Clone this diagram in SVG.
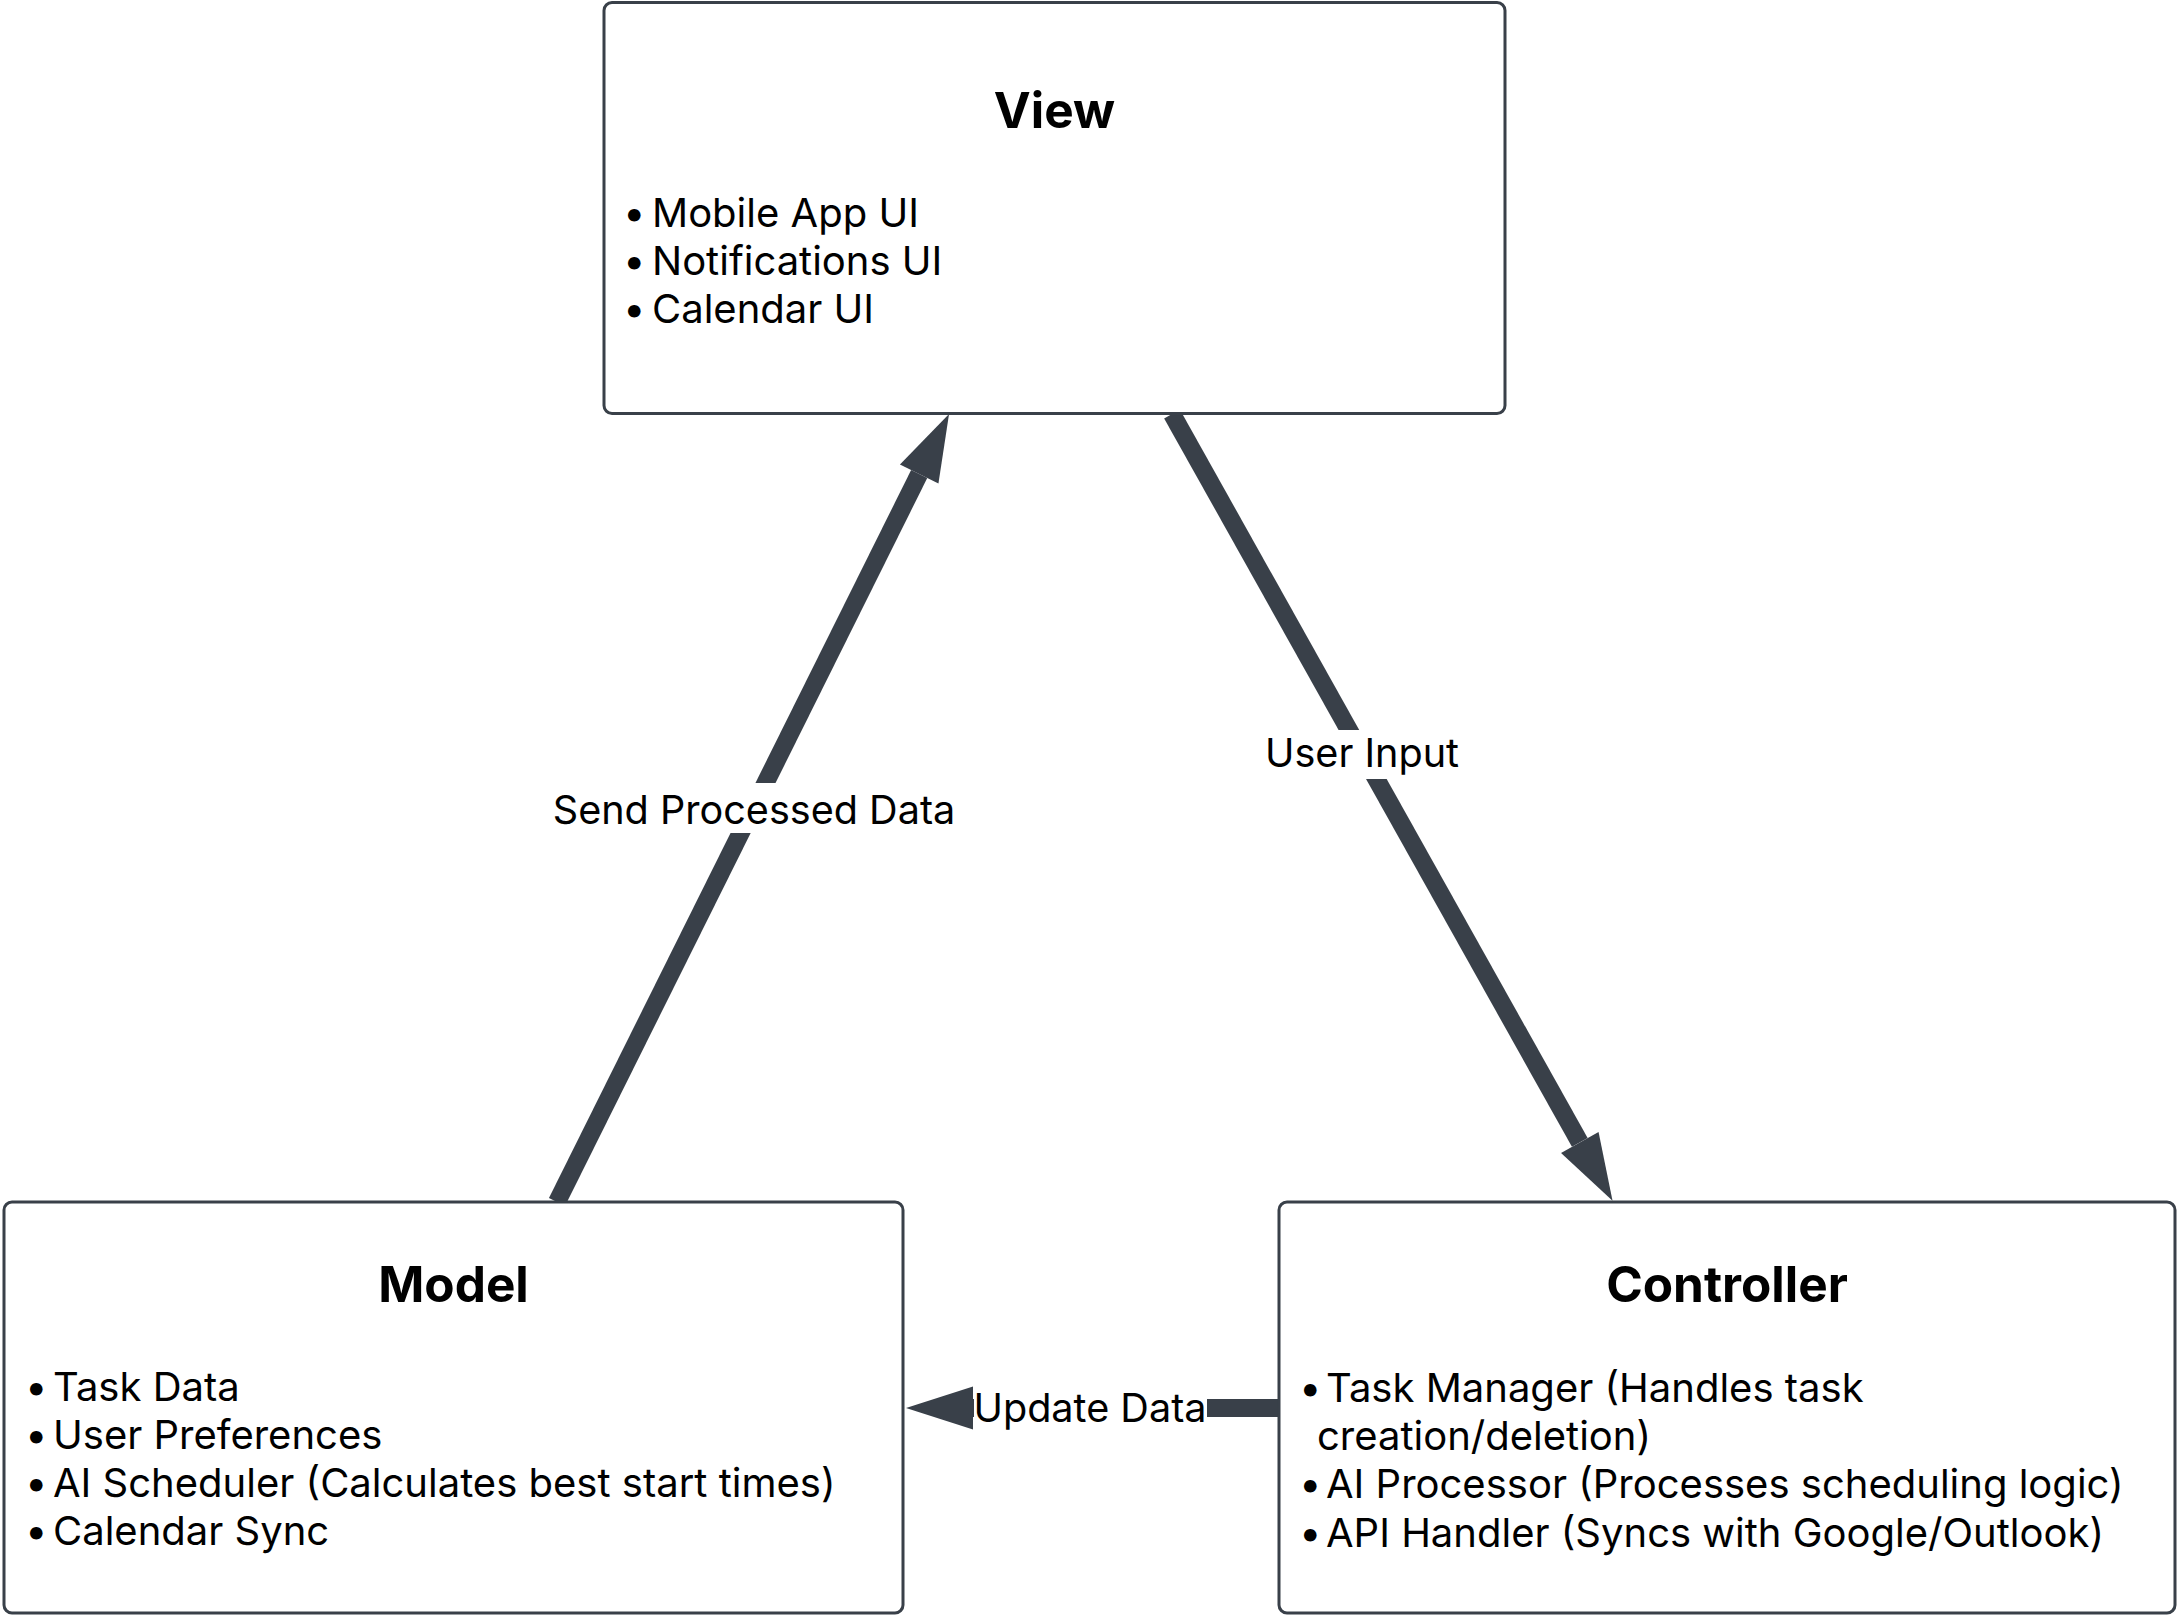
<svg xmlns="http://www.w3.org/2000/svg" width="2179" height="1616" viewBox="0 0 2179 1616">
<style>
.box{fill:#ffffff;stroke:#394049;stroke-width:3}
.title{font-family:Inter,"Liberation Sans",sans-serif;font-weight:700;font-size:49.5px;fill:#000;text-anchor:middle}
.item{font-family:Inter,"Liberation Sans",sans-serif;font-size:40px;fill:#000}
.edge{stroke:#394049;stroke-width:18;fill:none}
.lbl{font-family:Inter,"Liberation Sans",sans-serif;font-size:39.6px;fill:#000;text-anchor:middle}
.lblbg{fill:#ffffff}
</style>
<defs>
<marker id="ah" markerUnits="userSpaceOnUse" markerWidth="68" markerHeight="44" refX="0" refY="21.5" orient="auto" overflow="visible">
<path d="M0,0 L67,21.5 L0,43 Z" fill="#394049"/>
</marker>
</defs>
<rect width="2179" height="1616" fill="#ffffff"/>
<g id="connectors">
<line class="edge" x1="557" y1="1202" x2="919.2" y2="474" marker-end="url(#ah)"/>
<line class="edge" x1="1172" y1="414" x2="1579.8" y2="1142.4" marker-end="url(#ah)"/>
<line class="edge" x1="1279" y1="1408" x2="973" y2="1408" marker-end="url(#ah)"/>
<rect class="lblbg" x="549" y="783" width="410" height="50"/>
<text class="lbl" x="754" y="824">Send Processed Data</text>
<rect class="lblbg" x="1261" y="730" width="202" height="49"/>
<text class="lbl" x="1362" y="767">User Input</text>
<rect class="lblbg" x="974" y="1384" width="233" height="48"/>
<text class="lbl" x="1090" y="1422">Update Data</text>
</g>
<g id="view">
<rect class="box" x="604" y="2.5" width="901" height="411" rx="8"/>
<text class="title" x="1054.5" y="128">View</text>
<text class="item" y="227"><tspan x="623">•</tspan><tspan x="652">Mobile App UI</tspan></text>
<text class="item" y="275"><tspan x="623">•</tspan><tspan x="652">Notifications UI</tspan></text>
<text class="item" y="323"><tspan x="623">•</tspan><tspan x="652">Calendar UI</tspan></text>
</g>
<g id="model">
<rect class="box" x="4" y="1202" width="899" height="411" rx="8"/>
<text class="title" x="453.5" y="1302">Model</text>
<text class="item" y="1401"><tspan x="25">•</tspan><tspan x="53">Task Data</tspan></text>
<text class="item" y="1449"><tspan x="25">•</tspan><tspan x="53">User Preferences</tspan></text>
<text class="item" y="1497"><tspan x="25">•</tspan><tspan x="53">AI Scheduler (Calculates best start times)</tspan></text>
<text class="item" y="1545"><tspan x="25">•</tspan><tspan x="53">Calendar Sync</tspan></text>
</g>
<g id="controller">
<rect class="box" x="1279" y="1202" width="896" height="411" rx="8"/>
<text class="title" x="1727" y="1302">Controller</text>
<text class="item" y="1402"><tspan x="1299">•</tspan><tspan x="1326">Task Manager (Handles task</tspan></text>
<text class="item" x="1317" y="1450">creation/deletion)</text>
<text class="item" y="1498"><tspan x="1299">•</tspan><tspan x="1326">AI Processor (Processes scheduling logic)</tspan></text>
<text class="item" y="1547"><tspan x="1299">•</tspan><tspan x="1326">API Handler (Syncs with Google/Outlook)</tspan></text>
</g>
</svg>
